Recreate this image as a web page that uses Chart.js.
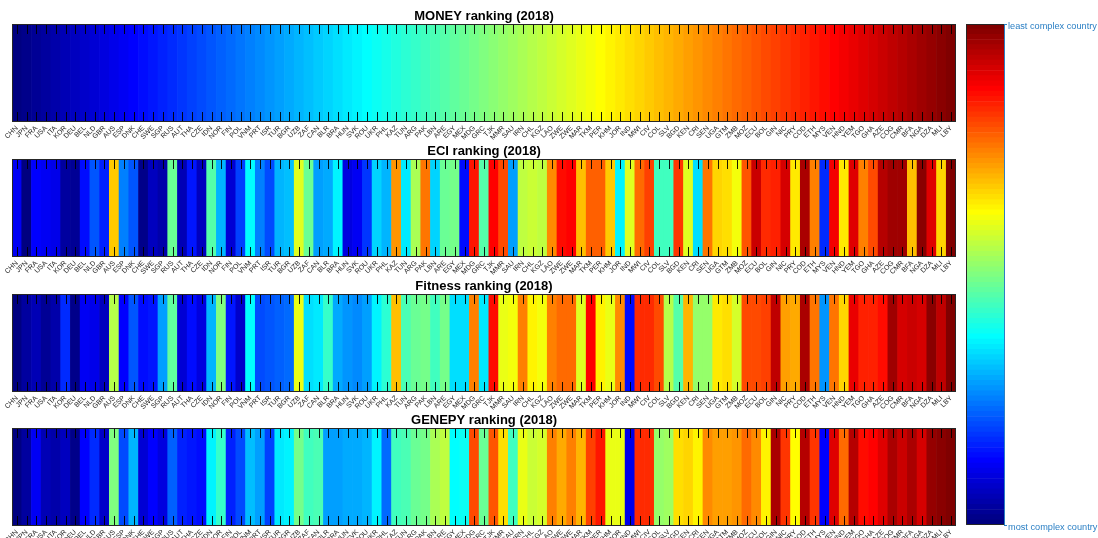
<!DOCTYPE html>
<html>
<head>
<meta charset="utf-8">
<script src="https://cdn.jsdelivr.net/npm/chart.js@4/dist/chart.umd.min.js"></script>
<style>
  html, body { margin:0; padding:0; background:#fff; width:1098px; height:538px; overflow:hidden; }
  canvas { position:absolute; }
</style>
</head>
<body>
<canvas id="p0"></canvas>
<canvas id="p1"></canvas>
<canvas id="p2"></canvas>
<canvas id="p3"></canvas>
<canvas id="cb"></canvas>
<script>
// ---------------- DATA ----------------
const countries = ['CHN','JPN','FRA','USA','ITA','KOR','DEU','BEL','NLD','GBR','AUS','ESP','DNK','CHE','SWE','SGP','RUS','AUT','THA','CZE','IDN','NOR','FIN','POL','VNM','PRT','ISR','TUR','BGR','UZB','ZAF','CAN','BLR','BRA','HUN','SVK','ROU','UKR','PHL','KAZ','TUN','ARG','PAK','LBN','ARE','EGY','MEX','MDG','GRC','TJK','MMR','SAU','IRN','CHL','KGZ','LAO','ZWE','ZWE','MAR','TKM','PER','KHM','JOR','IND','MWI','CIV','COL','SLV','BGD','KEN','CRI','SEN','UGA','GTM','ZMB','MOZ','ECU','BOL','GIN','NIC','PRY','COD','ETH','MYS','VEN','HND','YEM','TGO','GHA','AZE','COG','CMR','BFA','NGA','DZA','MLI','LBY'];

const moneyRank = [1,2,3,4,5,6,7,8,9,10,11,12,13,14,15,16,17,18,19,20,21,22,23,24,25,26,27,28,29,30,31,32,33,34,35,36,37,38,39,40,41,42,43,44,45,46,47,48,49,50,51,52,53,54,55,56,57,58,59,60,61,62,63,64,65,66,67,68,69,70,71,72,73,74,75,76,77,78,79,80,81,82,83,84,85,86,87,88,89,90,91,92,93,94,95,96,97];

const eciRank = [12,1,13,12,11,4,3,14,21,16,66,25,21,2,7,5,47,6,15,7,45,30,9,19,37,25,20,30,31,58,47,28,29,36,10,12,18,33,30,71,35,53,74,33,47,48,14,83,45,85,78,28,55,56,55,72,84,85,67,76,76,66,36,58,75,79,43,43,80,58,34,74,65,64,60,77,90,81,82,89,63,93,73,17,86,63,88,73,78,92,94,94,67,96,88,65,97];

const fitnessRank = [1,4,6,3,5,17,2,12,11,7,54,13,21,14,15,28,46,9,14,10,30,49,15,8,37,20,21,22,23,59,34,35,42,29,27,26,28,36,41,67,44,47,48,43,48,34,34,73,35,84,59,60,73,62,60,73,75,75,58,85,62,59,72,14,81,81,78,54,45,68,51,51,63,64,57,78,78,79,91,70,69,93,74,27,74,65,87,82,82,84,94,89,90,89,96,91,97];

const genepyRank = [1,4,12,6,5,7,2,13,17,8,49,20,30,9,13,10,22,16,15,14,36,42,16,20,31,28,19,35,36,48,43,44,28,28,29,29,30,36,23,43,44,47,48,53,55,37,38,78,47,77,64,43,59,56,57,73,69,73,68,79,83,59,59,11,81,81,51,52,64,65,62,72,70,70,71,75,72,62,93,80,61,92,80,13,88,75,92,84,85,88,93,90,93,89,95,96,97];

const panelTitles = ['MONEY ranking (2018)','ECI ranking (2018)','Fitness ranking (2018)','GENEPY ranking (2018)'];
const colorbarLevels = [1,2,3,4,5,6,7,8,9,10,11,12,13,14,15,16,17,18,19,20,21,22,23,24,25,26,27,28,29,30,31,32,33,34,35,36,37,38,39,40,41,42,43,44,45,46,47,48,49,50,51,52,53,54,55,56,57,58,59,60,61,62,63,64,65,66,67,68,69,70,71,72,73,74,75,76,77,78,79,80,81,82,83,84,85,86,87,88,89,90,91,92,93,94,95,96,97];
const colorbarLabels = ['most complex country','least complex country'];

// ---------------- STYLE ----------------
const FONT = "'Liberation Sans', Arial, Helvetica, sans-serif";
const N = countries.length;
function clamp(v){ return Math.max(0, Math.min(1, v)); }
function jet(rank){
  const t = (rank - 1) / (N - 1);
  const r = clamp(1.5 - Math.abs(4*t - 3));
  const g = clamp(1.5 - Math.abs(4*t - 2));
  const b = clamp(1.5 - Math.abs(4*t - 1));
  return 'rgb(' + Math.round(r*255) + ',' + Math.round(g*255) + ',' + Math.round(b*255) + ')';
}

const panelTop = [24, 159, 294, 428];
const panelH = 98;
const AXIS_H = 24;
const TITLE_H = 20;
const PLOT_LEFT = 12, PLOT_RIGHT = 956, CANVAS_W = 962;

const panelDecor = {
  id: 'panelDecor',
  afterDatasetsDraw(chart) {
    const ctx = chart.ctx, a = chart.chartArea, x = chart.scales.x;
    ctx.save();
    ctx.strokeStyle = 'rgba(0,0,0,0.9)';
    ctx.lineWidth = 1;
    ctx.beginPath();
    for (let i = 0; i < chart.data.labels.length; i++) {
      const px = Math.round(x.getPixelForTick(i)) + 0.5;
      ctx.moveTo(px, a.top); ctx.lineTo(px, a.top + 10);
      ctx.moveTo(px, a.bottom); ctx.lineTo(px, a.bottom - 10);
    }
    ctx.stroke();
    ctx.strokeStyle = '#262626';
    ctx.strokeRect(Math.round(a.left) + 0.5, Math.round(a.top) + 0.5, Math.round(a.right - a.left) - 1, Math.round(a.bottom - a.top) - 1);
    ctx.restore();
  }
};

const rankSets = [moneyRank, eciRank, fitnessRank, genepyRank];
rankSets.forEach((ranks, k) => {
  const cv = document.getElementById('p' + k);
  const h = TITLE_H + panelH + AXIS_H;
  cv.width = CANVAS_W; cv.height = h;
  cv.style.left = '0px'; cv.style.top = (panelTop[k] - TITLE_H) + 'px';
  new Chart(cv, {
    type: 'bar',
    data: {
      labels: countries,
      datasets: [{
        data: ranks.map(() => 1),
        backgroundColor: ranks.map(r => jet(r)),
        borderWidth: 0,
        barPercentage: 1,
        categoryPercentage: 1
      }]
    },
    options: {
      responsive: false,
      animation: false,
      devicePixelRatio: 1,
      layout: { padding: { left: PLOT_LEFT, right: CANVAS_W - PLOT_RIGHT, top: 0, bottom: 0 } },
      plugins: {
        legend: { display: false },
        tooltip: { enabled: false },
        title: {
          display: true,
          text: panelTitles[k],
          color: '#000',
          font: { family: FONT, size: 13, weight: 'bold' },
          padding: { top: 4.4, bottom: 0 }
        }
      },
      scales: {
        x: {
          type: 'category',
          offset: true,
          grid: { display: false, drawTicks: false },
          border: { display: false },
          ticks: {
            autoSkip: false,
            minRotation: 45,
            maxRotation: 45,
            padding: 2,
            color: '#222',
            font: { family: FONT, size: 7 }
          },
          afterFit(s) { s.height = AXIS_H; s.paddingLeft = 0; s.paddingRight = 0; }
        },
        y: { display: false, min: 0, max: 1 }
      }
    },
    plugins: [panelDecor]
  });
});

// ---------------- COLORBAR ----------------
const CB_BLUE = '#2a7fc4';
const cbDecor = {
  id: 'cbDecor',
  afterDatasetsDraw(chart) {
    const ctx = chart.ctx, a = chart.chartArea;
    ctx.save();
    ctx.strokeStyle = '#262626';
    ctx.lineWidth = 1;
    ctx.beginPath();
    const l = Math.round(a.left) + 0.5, t = Math.round(a.top) + 0.5, r = Math.round(a.right), b = Math.round(a.bottom) - 0.5;
    ctx.moveTo(r, t); ctx.lineTo(l, t); ctx.lineTo(l, b); ctx.lineTo(r, b);
    ctx.stroke();
    ctx.restore();
  }
};
const cb = document.getElementById('cb');
cb.width = 158; cb.height = 538;
cb.style.left = '940px'; cb.style.top = '0px';
new Chart(cb, {
  type: 'bar',
  data: {
    labels: [''],
    datasets: colorbarLevels.map(lv => ({
      data: [1],
      backgroundColor: jet(lv),
      borderWidth: 0,
      barPercentage: 1,
      categoryPercentage: 1
    }))
  },
  options: {
    responsive: false,
    animation: false,
    devicePixelRatio: 1,
    layout: { padding: { left: 26, right: 0, top: 24, bottom: 13 } },
    plugins: { legend: { display: false }, tooltip: { enabled: false } },
    scales: {
      x: { display: false, stacked: true },
      y: {
        stacked: true,
        position: 'right',
        min: 0,
        max: colorbarLevels.length,
        afterBuildTicks(s) { s.ticks = [{ value: 0 }, { value: colorbarLevels.length }]; },
        ticks: {
          padding: 1,
          labelOffset: 2,
          color: CB_BLUE,
          font: { family: FONT, size: 9.2 },
          callback: (v) => v === 0 ? colorbarLabels[0] : colorbarLabels[1]
        },
        grid: { drawOnChartArea: false, color: CB_BLUE, tickLength: 3 },
        border: { display: true, color: CB_BLUE, width: 1 },
        afterFit(s) { s.width = 94; s.paddingTop = 0; s.paddingBottom = 0; }
      }
    }
  },
  plugins: [cbDecor]
});
</script>
</body>
</html>
